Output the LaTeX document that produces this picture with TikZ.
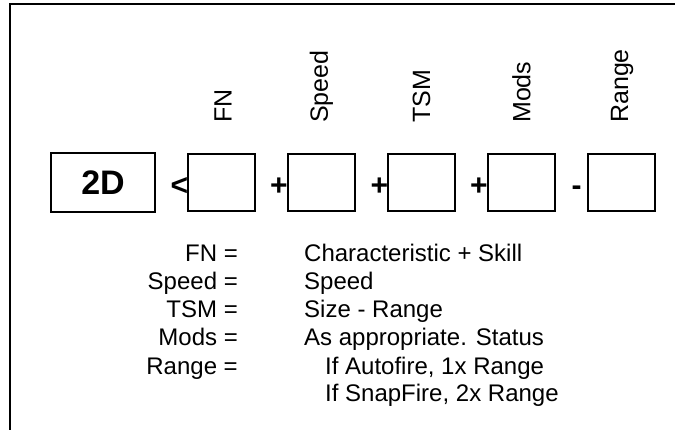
\documentclass[tikz,border=0pt]{standalone}
\usepackage{fontspec}
\setmainfont{Liberation Sans}
\begin{document}
\begin{tikzpicture}[x=1pt,y=-1pt,
  box/.style={draw,line width=2pt,minimum width=67pt,minimum height=57pt,inner sep=0pt},
  op/.style={font=\fontsize{30}{30}\selectfont\bfseries,inner sep=0pt,anchor=base},
  lab/.style={font=\fontsize{25}{25}\selectfont,rotate=90,anchor=west,inner sep=0pt},
  lt/.style={font=\fontsize{24}{28}\selectfont,inner sep=0pt,anchor=base east},
  rt/.style={font=\fontsize{24}{28}\selectfont,inner sep=0pt,anchor=base west}]
\useasboundingbox (0,0) rectangle (675,430);
% frame (only top and left edges visible)
\coordinate (f1) at (675,4);
\coordinate (f2) at (10,4);
\coordinate (f3) at (10,430);
\draw[line width=2.5pt] (f1) -- (f2) -- (f3);
% boxes
\node[box,minimum width=104pt,minimum height=59pt,font=\fontsize{34}{34}\selectfont\bfseries] (b2d) at (103,182.5) {2D};
\node[box] (bfn) at (221.5,182.5) {};
\node[box] (bsp) at (321.5,182.5) {};
\node[box] (btsm) at (421.5,182.5) {};
\node[box] (bmod) at (521.5,182.5) {};
\node[box] (brng) at (621.5,182.5) {};
% operators
\node[op] (olt) at (179.5,196) {<};
\node[op] (op1) at (279,196) {+};
\node[op] (op2) at (379.5,196) {+};
\node[op] (op3) at (479,196) {+};
\node[op] (omi) at (576.5,196) {-};
% rotated labels
\node[lab] (lfn) at (223,123) {FN};
\node[lab] (lsp) at (321.5,123) {Speed};
\node[lab] (ltsm) at (421.5,123) {TSM};
\node[lab] (lmod) at (521.5,123) {Mods};
\node[lab] (lrng) at (622,123) {Range};
% legend
\node[lt] (k1) at (238,262) {FN =};
\node[lt] (k2) at (238,290) {Speed =};
\node[lt] (k3) at (238,318) {TSM =};
\node[lt] (k4) at (238,346) {Mods =};
\node[lt] (k5) at (238,374) {Range =};
\node[rt] (v1) at (304,262) {Characteristic + Skill};
\node[rt] (v2) at (304,290) {Speed};
\node[rt] (v3) at (304,318) {Size - Range};
\node[rt] (v4) at (304,346) {As appropriate. Status};
\node[rt] (v5) at (325,374) {If Autofire, 1x Range};
\node[rt] (v6) at (325,402) {If SnapFire, 2x Range};
\end{tikzpicture}
\end{document}
